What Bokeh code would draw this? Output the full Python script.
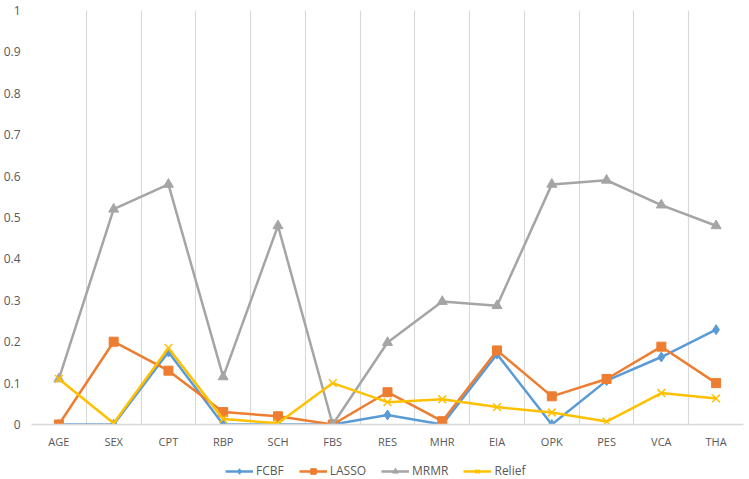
from bokeh.plotting import figure
from bokeh.embed import file_html
from bokeh.resources import INLINE
from bokeh.layouts import column
from bokeh.models import (FixedTicker, CustomJSTickFormatter, Range1d, Legend, LegendItem)
import numpy as np

categories = ["AGE", "SEX", "CPT", "RBP", "SCH", "FBS", "RES", "MHR", "EIA", "OPK", "PES", "VCA", "THA"]
fcbf = [0.0, 0.0, 0.175, 0.0, 0.0, 0.0, 0.023, 0.0, 0.170, 0.0, 0.106, 0.163, 0.229]
lasso = [0.0, 0.20, 0.13, 0.03, 0.02, 0.0, 0.078, 0.008, 0.179, 0.068, 0.110, 0.188, 0.100]
mrmr = [0.11, 0.52, 0.58, 0.115, 0.48, 0.0, 0.198, 0.297, 0.287, 0.58, 0.59, 0.53, 0.48]
relief = [0.11, 0.003, 0.185, 0.013, 0.003, 0.10, 0.054, 0.061, 0.042, 0.029, 0.007, 0.076, 0.063]
y_ticks = [0, 0.1, 0.2, 0.3, 0.4, 0.5, 0.6, 0.7, 0.8, 0.9, 1]

series = [
    ("FCBF", fcbf, "#5B9BD5", "diamond", 10),
    ("LASSO", lasso, "#ED7D31", "square", 9),
    ("MRMR", mrmr, "#A5A5A5", "triangle", 10),
    ("Relief", relief, "#FFC000", "x", 11),
]

n = len(categories)
x = np.arange(n) + 0.5

p = figure(width=745, height=452, output_backend="svg", toolbar_location=None,
           x_range=Range1d(0, n), y_range=Range1d(0, 1.0),
           min_border_left=30, min_border_right=2, min_border_top=10, min_border_bottom=28)
p.outline_line_color = None
p.background_fill_color = "white"
p.border_fill_color = "white"

# x axis
p.xaxis.ticker = FixedTicker(ticks=list(x))
p.xaxis.formatter = CustomJSTickFormatter(args=dict(labels=categories),
                                          code="return labels[Math.floor(tick)];")
p.xaxis.major_tick_line_color = None
p.xaxis.minor_tick_line_color = None
p.xaxis.major_tick_out = 0
p.xaxis.major_tick_in = 0
p.xaxis.minor_tick_out = 0
p.xaxis.axis_line_color = "#D9D9D9"
p.xaxis.axis_line_width = 1.5
p.xaxis.major_label_text_color = "#595959"
p.xaxis.major_label_text_font = "Open Sans"
p.xaxis.major_label_text_font_size = "11px"
p.xaxis.major_label_standoff = 9

# y axis
p.yaxis.ticker = FixedTicker(ticks=y_ticks)
p.yaxis.axis_line_color = None
p.yaxis.major_tick_line_color = None
p.yaxis.minor_tick_line_color = None
p.yaxis.major_tick_out = 0
p.yaxis.major_tick_in = 0
p.yaxis.major_label_text_color = "#595959"
p.yaxis.major_label_text_font = "Open Sans"
p.yaxis.major_label_text_font_size = "12px"
p.yaxis.major_label_standoff = 11

# grids: vertical at category boundaries
p.ygrid.grid_line_color = None
p.xgrid.ticker = FixedTicker(ticks=list(range(0, n + 1)))
p.xgrid.grid_line_color = "#D9D9D9"
p.xgrid.grid_line_width = 1.2

# legend figure (separate strip below the chart)
lf = figure(width=745, height=26, output_backend="svg", toolbar_location=None,
            x_range=Range1d(100, 101), y_range=Range1d(100, 101),
            min_border=0)
lf.outline_line_color = None
lf.axis.visible = False
lf.grid.visible = False

items = []
for name, vals, color, marker, size in series:
    p.line(x, vals, line_color=color, line_width=2.5)
    if marker == "x":
        p.scatter(x, vals, marker=marker, size=size, line_color=color, line_width=1.5)
    else:
        p.scatter(x, vals, marker=marker, size=size, fill_color=color, line_color=color)
    l1 = lf.line(x, vals, line_color=color, line_width=2.5)
    if marker == "x":
        l2 = lf.scatter(x, vals, marker=marker, size=size - 2, line_color=color, line_width=1.5)
    else:
        l2 = lf.scatter(x, vals, marker=marker, size=size - 2, fill_color=color, line_color=color)
    items.append(LegendItem(label=name, renderers=[l1, l2]))

legend = Legend(items=items, orientation="horizontal", location=(194, -1),
                label_text_font="Open Sans", label_text_font_size="12px",
                label_text_color="#595959", border_line_color=None,
                background_fill_alpha=0, glyph_width=28, glyph_height=14,
                label_height=14, label_standoff=3,
                spacing=15, padding=0, margin=0)
lf.add_layout(legend, "center")

layout = column(p, lf, spacing=0)
open("out.html", "w").write(file_html(layout, INLINE))
